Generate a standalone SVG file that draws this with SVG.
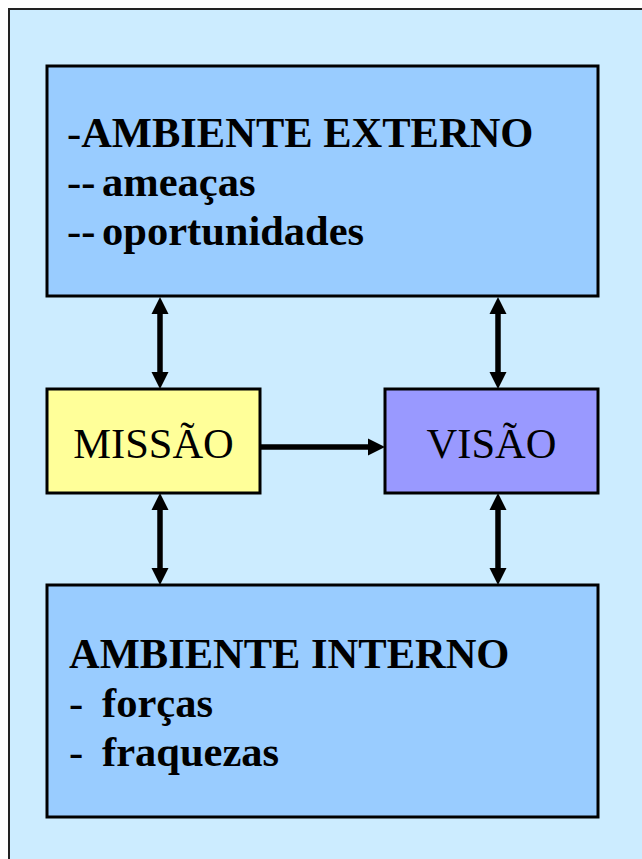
<svg xmlns="http://www.w3.org/2000/svg" width="642" height="859" viewBox="0 0 642 859">
<style>
.t{font-family:"Liberation Serif","Times New Roman",serif;font-size:42.5px;fill:#000}
.b{font-weight:bold}
.box{stroke:#000;stroke-width:3}
.ln{stroke:#000;stroke-width:5.5;fill:none}
.hd{fill:#000}
</style>
<rect x="9" y="9" width="650" height="870" fill="#CCECFF" stroke="#222" stroke-width="2"/>
<g id="ambiente-externo">
<rect class="box" x="47" y="66" width="551" height="230" fill="#99CCFF"/>
<text class="t" x="67" y="147">-<tspan class="b">AMBIENTE EXTERNO</tspan></text>
<text class="t" x="67" y="196">-<tspan class="b">-</tspan><tspan class="b" x="102">ameaças</tspan></text>
<text class="t" x="67" y="245">-<tspan class="b">-</tspan><tspan class="b" x="102">oportunidades</tspan></text>
</g>
<g id="missao">
<rect class="box" x="47" y="389" width="213" height="104" fill="#FFFF99"/>
<text class="t" x="153.5" y="458" text-anchor="middle">MISSÃO</text>
</g>
<g id="visao">
<rect class="box" x="385" y="389" width="213" height="104" fill="#9999FF"/>
<text class="t" x="491.5" y="458" text-anchor="middle">VISÃO</text>
</g>
<g id="ambiente-interno">
<rect class="box" x="47" y="585" width="551" height="232" fill="#99CCFF"/>
<text class="t b" x="69" y="668">AMBIENTE INTERNO</text>
<text class="t" x="69" y="717">-<tspan class="b" x="102">forças</tspan></text>
<text class="t" x="69" y="766">-<tspan class="b" x="102">fraquezas</tspan></text>
</g>
<g id="connectors">
<line class="ln" x1="160" y1="310" x2="160" y2="376"/>
<polygon class="hd" points="160,297 151.5,314 168.5,314"/>
<polygon class="hd" points="160,389 151.5,372 168.5,372"/>
<line class="ln" x1="498" y1="310" x2="498" y2="376"/>
<polygon class="hd" points="498,297 489.5,314 506.5,314"/>
<polygon class="hd" points="498,389 489.5,372 506.5,372"/>
<line class="ln" x1="160" y1="506" x2="160" y2="572"/>
<polygon class="hd" points="160,493 151.5,510 168.5,510"/>
<polygon class="hd" points="160,585 151.5,568 168.5,568"/>
<line class="ln" x1="498" y1="506" x2="498" y2="572"/>
<polygon class="hd" points="498,493 489.5,510 506.5,510"/>
<polygon class="hd" points="498,585 489.5,568 506.5,568"/>
<line class="ln" x1="261" y1="447" x2="372" y2="447"/>
<polygon class="hd" points="385,447 368,438.5 368,455.5"/>
</g>
</svg>
